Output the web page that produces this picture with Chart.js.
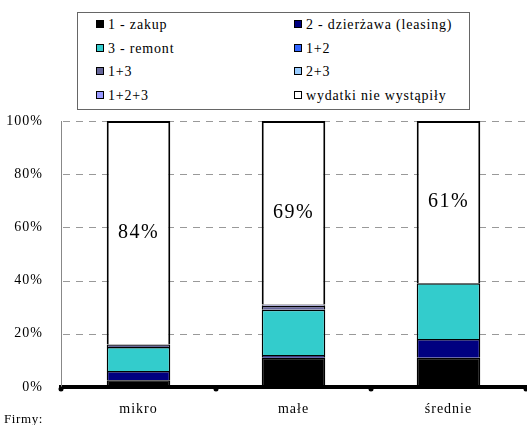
<!DOCTYPE html>
<html>
<head>
<meta charset="utf-8">
<script src="https://cdn.jsdelivr.net/npm/chart.js@4"></script>
<style>
  body { margin: 0; background: #fff; }
  #wrap { position: relative; width: 527px; height: 425px; font-family: "Liberation Serif", "Times New Roman", serif; }
  #legend { position: absolute; left: 77px; top: 12px; width: 391px; height: 96px; border: 1px solid #666; background: #fff; }
  .item { position: absolute; font-size: 14px; letter-spacing: 0.8px; color: #000; white-space: nowrap; line-height: 14px; }
  .item span.sw { display: inline-block; width: 6px; height: 6px; border: 1px solid #000; margin-right: 4px; vertical-align: 1px; }
  #firmy { position: absolute; left: 4px; top: 411px; font-size: 13px; letter-spacing: 0.6px; }
</style>
</head>
<body>
<div id="wrap">
  <canvas id="chart" width="527" height="425"></canvas>
  <div id="legend"></div>
  <div id="firmy">Firmy:</div>
</div>
<script>
const categories = ['mikro', 'małe', 'średnie'];
const seriesNames = ['1 - zakup', '2 - dzierżawa (leasing)', '3 - remont', '1+2', '1+3', '2+3', '1+2+3', 'wydatki nie wystąpiły'];
const seriesColors = ['#000000', '#000080', '#33CCCC', '#3366FF', '#666699', '#99CCFF', '#9999FF', '#FFFFFF'];

const zakup = [2.5, 11, 11];
const dzierzawa = [3.5, 1, 7];
const remont = [9, 17, 21];
const z12 = [0, 0, 0];
const z13 = [1, 1.5, 0];
const z23 = [0, 0, 0];
const z123 = [0, 0.5, 0];
const brak = [84, 69, 61];

const yTicks = [0, 20, 40, 60, 80, 100];

const seriesValues = [zakup, dzierzawa, remont, z12, z13, z23, z123, brak];

// legend in two columns
const legend = document.getElementById('legend');
seriesNames.forEach((name, i) => {
    const d = document.createElement('div');
    d.className = 'item';
    d.style.left = (i % 2 === 0 ? 18 : 216) + 'px';
    d.style.top = (5 + Math.floor(i / 2) * 23.5) + 'px';
    d.innerHTML = `<span class="sw" style="background:${seriesColors[i]}"></span>${name}`;
    legend.appendChild(d);
});

// the original text is a bit spread out
const spacing = {
    id: 'spacing',
    beforeLayout(chart) { chart.ctx.letterSpacing = '1px'; },
    beforeDraw(chart) { chart.ctx.letterSpacing = '1px'; }
};

// dashed horizontal grid lines, taken from the y scale ticks
const dashedGrid = {
    id: 'dashedGrid',
    beforeDatasetsDraw(chart) {
        const ctx = chart.ctx;
        const y = chart.scales.y;
        const {left, right} = chart.chartArea;
        ctx.save();
        ctx.strokeStyle = '#999';
        ctx.lineWidth = 1;
        ctx.setLineDash([7, 6]);
        y.ticks.forEach(t => {
            if (t.value === 0) return;
            const py = Math.round(y.getPixelForValue(t.value)) + 0.5;
            ctx.beginPath();
            ctx.moveTo(left + 2, py);
            ctx.lineTo(right, py);
            ctx.stroke();
        });
        ctx.restore();
    }
};

const insideLabels = {
    id: 'insideLabels',
    afterDatasetsDraw(chart) {
        const ctx = chart.ctx;
        const last = chart.data.datasets.length - 1;
        const meta = chart.getDatasetMeta(last);
        ctx.save();
        ctx.letterSpacing = '1.5px';
        ctx.font = '20px "Liberation Serif", serif';
        ctx.fillStyle = '#000';
        ctx.textAlign = 'center';
        ctx.textBaseline = 'middle';
        meta.data.forEach((bar, i) => {
            const p = bar.getCenterPoint();
            ctx.fillText(chart.data.datasets[last].data[i] + '%', p.x, p.y);
        });
        ctx.restore();
    }
};

const axisDots = {
    id: 'axisDots',
    afterDraw(chart) {
        const ctx = chart.ctx;
        const x = chart.scales.x;
        const y0 = chart.chartArea.bottom;
        ctx.save();
        ctx.fillStyle = '#000';
        const step = (x.right - x.left) / categories.length;
        for (let i = 0; i <= categories.length; i++) {
            ctx.beginPath();
            ctx.arc(x.left + i * step, y0 + 2, 2.5, 0, Math.PI * 2);
            ctx.fill();
        }
        ctx.restore();
    }
};

new Chart(document.getElementById('chart'), {
    type: 'bar',
    data: {
        labels: categories,
        datasets: seriesNames.map((name, i) => ({
            label: name,
            data: seriesValues[i],
            backgroundColor: seriesColors[i],
            borderColor: '#000',
            borderWidth: i === 7 ? 2 : 1.5,
            barPercentage: 0.82,
            categoryPercentage: 0.5
        }))
    },
    options: {
        responsive: false,
        animation: false,
        layout: { padding: { top: 121, right: 1, left: 0, bottom: 0 } },
        plugins: { legend: { display: false }, tooltip: { enabled: false } },
        scales: {
            x: {
                stacked: true,
                grid: { display: false },
                border: { color: '#000', width: 4 },
                ticks: { color: '#000', font: { family: '"Liberation Serif"', size: 14 }, padding: 6 },
                afterFit: s => { s.height = 38; }
            },
            y: {
                stacked: true,
                min: 0,
                max: 100,
                afterBuildTicks: s => { s.ticks = yTicks.map(v => ({ value: v })); },
                grid: { display: false },
                border: { color: '#888', width: 1 },
                ticks: {
                    color: '#000',
                    padding: 10,
                    font: { family: '"Liberation Serif"', size: 14 },
                    callback: v => v + '%'
                },
                afterFit: s => { s.width = 61; }
            }
        }
    },
    plugins: [spacing, dashedGrid, insideLabels, axisDots]
});
</script>
</body>
</html>
